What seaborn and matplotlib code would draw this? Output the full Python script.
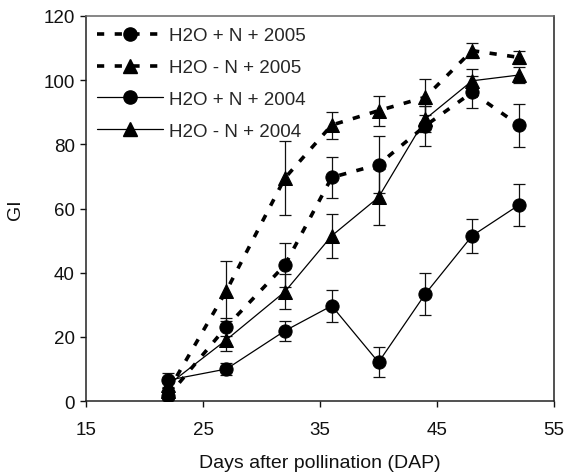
import numpy as np
import pandas as pd
import matplotlib
matplotlib.use("Agg")
import matplotlib.pyplot as plt
import seaborn as sns
from matplotlib.lines import Line2D

# Days after pollination
dap = [22, 27, 32, 36, 40, 44, 48, 52]

# GI means and standard errors per treatment
gi_pn_2005 = [1.5, 23.2, 42.4, 69.7, 73.7, 85.8, 96.2, 86.0]
se_pn_2005 = [1.0, 2.8, 6.8, 6.5, 9.0, 6.2, 5.0, 6.7]

gi_mn_2005 = [3.0, 34.4, 69.5, 86.0, 90.5, 94.7, 109.2, 107.1]
se_mn_2005 = [1.0, 9.3, 11.5, 4.2, 4.7, 5.7, 2.3, 2.0]

gi_pn_2004 = [6.5, 10.0, 21.9, 29.7, 12.1, 33.4, 51.5, 61.1]
se_pn_2004 = [2.2, 1.8, 3.2, 4.9, 4.7, 6.6, 5.2, 6.6]

gi_mn_2004 = [5.0, 19.1, 34.1, 51.5, 63.5, 87.9, 99.8, 101.6]
se_mn_2004 = [1.0, 3.5, 5.5, 6.8, 8.7, 4.0, 3.7, 2.5]

labels = ["H2O + N + 2005", "H2O - N + 2005", "H2O + N + 2004", "H2O - N + 2004"]
means = [gi_pn_2005, gi_mn_2005, gi_pn_2004, gi_mn_2004]
errors = [se_pn_2005, se_mn_2005, se_pn_2004, se_mn_2004]

frames = []
for lab, m, e in zip(labels, means, errors):
    frames.append(pd.DataFrame({"DAP": dap, "GI": m, "SE": e, "Treatment": lab}))
df = pd.concat(frames, ignore_index=True)

sns.set_theme(style="ticks")
plt.rcParams["font.family"] = ["Liberation Sans", "DejaVu Sans"]

fig = plt.figure(figsize=(5.64, 4.77), dpi=100)
ax = fig.add_axes([0.1525, 0.157, 0.8298, 0.8074])

dash = (0, (2.0, 2.9))
styles = {
    "H2O + N + 2005": dict(ls=dash, lw=2.6, marker="o"),
    "H2O - N + 2005": dict(ls=dash, lw=2.6, marker="^"),
    "H2O + N + 2004": dict(ls="-", lw=0.9, marker="o"),
    "H2O - N + 2004": dict(ls="-", lw=0.9, marker="^"),
}

# error bars first, so lines and markers sit on top
for lab in labels:
    sub = df[df["Treatment"] == lab]
    ax.errorbar(sub["DAP"], sub["GI"], yerr=sub["SE"], fmt="none",
                ecolor="#111111", elinewidth=0.9, capsize=4, capthick=0.9, zorder=2)

for lab in labels:
    sub = df[df["Treatment"] == lab]
    st = styles[lab]
    sns.lineplot(data=sub, x="DAP", y="GI", ax=ax, color="black",
                 linestyle=st["ls"], linewidth=st["lw"], marker=st["marker"],
                 markersize=9.5, markeredgecolor="black", markerfacecolor="black",
                 legend=False, zorder=3)

ax.set_xlim(15, 55)
ax.set_ylim(0, 120)
ax.set_xticks([15, 25, 35, 45, 55])
ax.set_yticks(np.arange(0, 121, 20))
ax.tick_params(axis="both", direction="out", length=4, width=1, labelsize=13.5,
               colors="#111111")
ax.tick_params(axis="x", pad=10)
ax.tick_params(axis="y", pad=4)
for side in ["left", "right", "top", "bottom"]:
    ax.spines[side].set_visible(True)
    ax.spines[side].set_color("#222222")
    ax.spines[side].set_linewidth(1.1)
ax.spines["top"].set_color("#666666")

ax.set_xlabel("Days after pollination (DAP)", fontsize=14, labelpad=12, color="#111111")
ax.set_ylabel("GI", fontsize=14, labelpad=14, color="#111111")

handles = []
for lab in labels:
    st = styles[lab]
    handles.append(Line2D([0], [0], color="black", linestyle=st["ls"], linewidth=st["lw"],
                          marker=st["marker"], markersize=9.5))
ax.legend(handles, labels, loc="upper left", frameon=False, fontsize=13.5,
          handlelength=3.5, handletextpad=0.3, labelspacing=0.78,
          borderaxespad=0.2, bbox_to_anchor=(0.0, 1.0))

fig.savefig("out.png", dpi=100)
